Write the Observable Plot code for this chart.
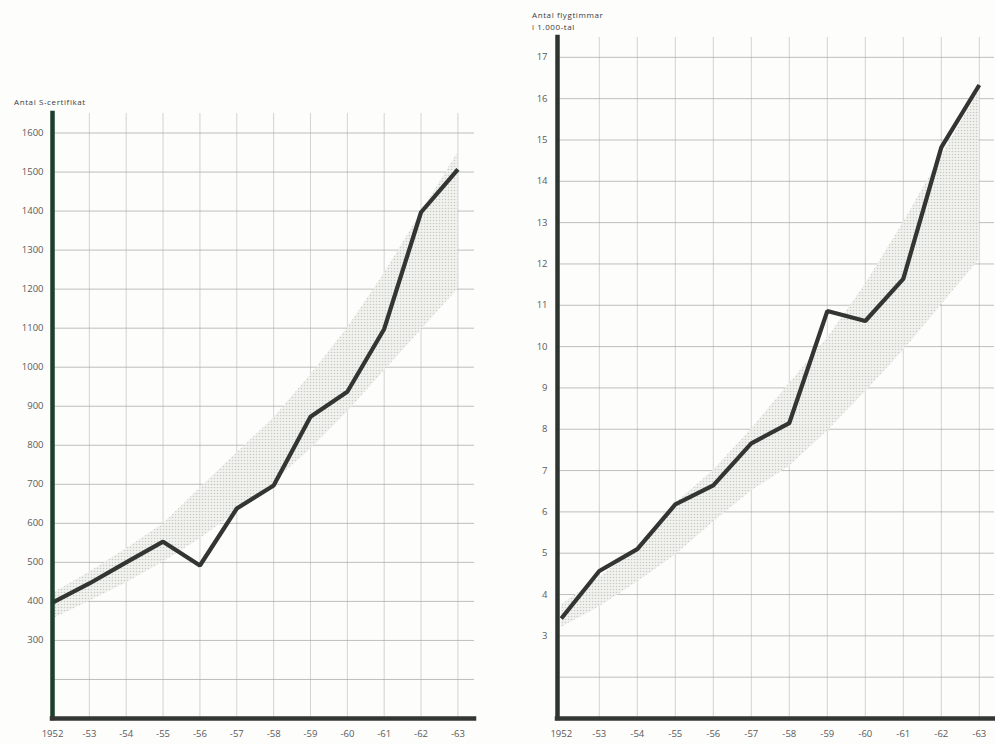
<!DOCTYPE html>
<html>
<head>
<meta charset="utf-8">
<script src="https://cdn.jsdelivr.net/npm/d3@7"></script>
<script src="https://cdn.jsdelivr.net/npm/@observablehq/plot@0.6"></script>
<style>
  html, body { margin: 0; padding: 0; background: #ffffff; }
  #root { position: relative; width: 995px; height: 744px; overflow: hidden; background: #fdfdfc; font-family: "Open Sans", sans-serif; }
  .panel { position: absolute; top: 0; }
  .ttl { position: absolute; font-family: "Open Sans", sans-serif; font-size: 8px; letter-spacing: 0.6px; color: #3a3a3a; line-height: 12px; white-space: nowrap; }
</style>
</head>
<body>
<div id="root">
  <div id="left" class="panel" style="left:0px;"></div>
  <div id="right" class="panel" style="left:495px;"></div>
  <div class="ttl" style="left:14px; top:96px;">Antal S-certifikat</div>
  <div class="ttl" style="left:532px; top:9px;">Antal flygtimmar<br>i 1.000-tal</div>
</div>
<script>
// ---- data ----
const years = [1952, 1953, 1954, 1955, 1956, 1957, 1958, 1959, 1960, 1961, 1962, 1963];
const yearLabels = ["1952", "-53", "-54", "-55", "-56", "-57", "-58", "-59", "-60", "-61", "-62", "-63"];

// Left: Antal S-certifikat
const certifikat = [397, 446, 500, 553, 492, 638, 697, 873, 937, 1098, 1397, 1507];
const certBandLow = [355, 400, 447, 500, 560, 630, 705, 790, 885, 990, 1095, 1200];
const certBandHigh = [420, 475, 535, 598, 690, 780, 870, 980, 1100, 1240, 1395, 1550];
const certTicks = [300, 400, 500, 600, 700, 800, 900, 1000, 1100, 1200, 1300, 1400, 1500, 1600];
const certGrid = [200, 300, 400, 500, 600, 700, 800, 900, 1000, 1100, 1200, 1300, 1400, 1500, 1600];

// Right: Antal flygtimmar i 1.000-tal
const flygtimmar = [3.42, 4.57, 5.1, 6.18, 6.64, 7.66, 8.15, 10.86, 10.62, 11.64, 14.82, 16.33];
const flygBandLow = [3.2, 3.7, 4.3, 4.95, 5.75, 6.5, 7.1, 7.95, 8.9, 9.9, 11.0, 12.1];
const flygBandHigh = [3.75, 4.4, 5.15, 6.2, 7.0, 8.0, 9.1, 10.2, 11.5, 13.0, 14.6, 16.2];
const flygTicks = [3, 4, 5, 6, 7, 8, 9, 10, 11, 12, 13, 14, 15, 16, 17];
const flygGrid = [2, 3, 4, 5, 6, 7, 8, 9, 10, 11, 12, 13, 14, 15, 16, 17];

const gridYears = years.slice(1);
const labelOf = new Map(years.map((y, i) => [y, yearLabels[i]]));

function makeTable(vals, lo, hi) {
  return years.map((year, i) => ({ year, value: vals[i], low: lo[i], high: hi[i] }));
}

function addPattern(svg, id) {
  const ns = "http://www.w3.org/2000/svg";
  const defs = document.createElementNS(ns, "defs");
  const pat = document.createElementNS(ns, "pattern");
  pat.setAttribute("id", id);
  pat.setAttribute("width", "3");
  pat.setAttribute("height", "3");
  pat.setAttribute("patternUnits", "userSpaceOnUse");
  const bg = document.createElementNS(ns, "rect");
  bg.setAttribute("width", "3"); bg.setAttribute("height", "3");
  bg.setAttribute("fill", "#f1f2ee");
  const dot = document.createElementNS(ns, "circle");
  dot.setAttribute("cx", "1.5"); dot.setAttribute("cy", "1.5"); dot.setAttribute("r", "0.8");
  dot.setAttribute("fill", "#c2c5bd");
  pat.appendChild(bg); pat.appendChild(dot);
  defs.appendChild(pat);
  svg.insertBefore(defs, svg.firstChild);
}

function panel(opts) {
  const data = makeTable(opts.values, opts.low, opts.high);
  const svg = Plot.plot({
    width: opts.width,
    height: 744,
    marginLeft: opts.marginLeft,
    marginRight: opts.marginRight,
    marginTop: opts.marginTop,
    marginBottom: opts.marginBottom,
    style: { background: "transparent", fontFamily: "Open Sans, sans-serif", fontSize: "9.5px", color: "#5a5a5a" },
    x: { domain: opts.xDomain, axis: null, label: null },
    y: { domain: opts.yDomain, axis: null, label: null },
    marks: [
      Plot.ruleY(opts.grid, { stroke: "#9a9c98", strokeWidth: 0.8, strokeOpacity: 0.8 }),
      Plot.ruleX(gridYears, { stroke: "#a8aaa6", strokeWidth: 0.7, strokeOpacity: 0.7 }),
      Plot.areaY(data, { x: "year", y1: "low", y2: "high", fill: `url(#${opts.patternId})`, fillOpacity: 0.9 }),
      Plot.line(data, { x: "year", y: "value", stroke: "#333532", strokeWidth: 4.2, strokeLinejoin: "miter", strokeLinecap: "butt" }),
      Plot.ruleX([opts.xDomain[0]], { stroke: opts.spineColor, strokeWidth: 4.5, strokeLinecap: "square" }),
      Plot.ruleY([opts.yDomain[0]], { stroke: "#333633", strokeWidth: 4.5, strokeLinecap: "square" }),
      Plot.axisY(opts.ticks, { tickSize: 0, tickPadding: opts.tickPaddingY, fill: "#5a5a5a", fontSize: 9.5, label: null, tickFormat: d3.format("d") }),
      Plot.axisX(years, { tickSize: 0, tickPadding: 12, fill: "#5a5a5a", fontSize: 9.5, label: null, tickFormat: (d) => labelOf.get(d) })
    ]
  });
  addPattern(svg, opts.patternId);
  return svg;
}

document.getElementById("left").appendChild(panel({
  width: 495, marginLeft: 52, marginRight: 21, marginTop: 113, marginBottom: 26,
  xDomain: [1952, 1963.45], yDomain: [100, 1650],
  values: certifikat, low: certBandLow, high: certBandHigh,
  ticks: certTicks, grid: certGrid, tickPaddingY: 9,
  spineColor: "#1d3f2b", patternId: "dotsLeft"
}));

document.getElementById("right").appendChild(panel({
  width: 500, marginLeft: 62, marginRight: 1, marginTop: 37, marginBottom: 26,
  xDomain: [1951.9, 1963.4], yDomain: [1, 17.48],
  values: flygtimmar, low: flygBandLow, high: flygBandHigh,
  ticks: flygTicks, grid: flygGrid, tickPaddingY: 10,
  spineColor: "#2e3430", patternId: "dotsRight"
}));
</script>
</body>
</html>
